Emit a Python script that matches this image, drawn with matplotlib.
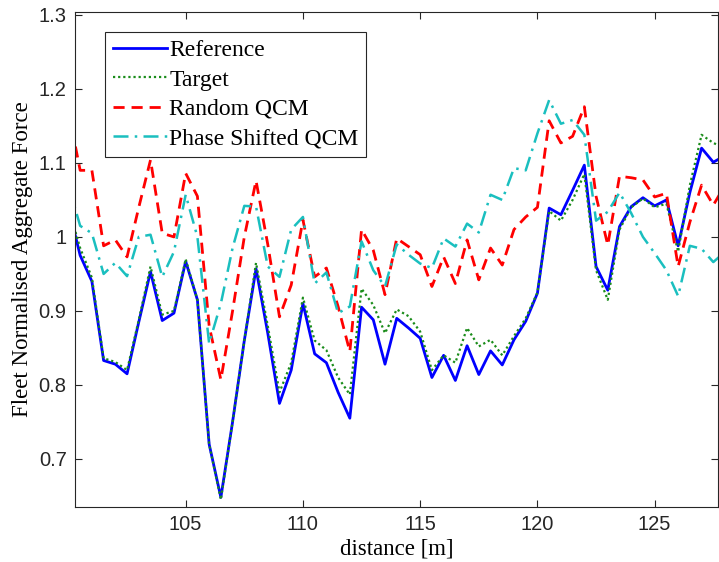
import numpy as np
import matplotlib.pyplot as plt
from matplotlib.ticker import FuncFormatter

# distance samples [m], every 0.5 m
distance = np.arange(100.0, 128.01, 0.5)

reference = [1.04, 0.975, 0.94, 0.833, 0.828, 0.815, 0.885, 0.953, 0.887, 0.897,
             0.967, 0.915, 0.72, 0.648, 0.75, 0.86, 0.957, 0.87, 0.775, 0.82,
             0.91, 0.842, 0.83, 0.79, 0.755, 0.905, 0.888, 0.828, 0.89, 0.877,
             0.863, 0.81, 0.84, 0.806, 0.853, 0.814, 0.846, 0.827, 0.861, 0.886,
             0.924, 1.039, 1.03, 1.063, 1.097, 0.96, 0.928, 1.014, 1.041, 1.053,
             1.042, 1.05, 0.988, 1.06, 1.12, 1.101, 1.11]

target = [1.04, 0.985, 0.945, 0.836, 0.831, 0.82, 0.888, 0.96, 0.895, 0.9,
          0.97, 0.915, 0.72, 0.645, 0.75, 0.86, 0.965, 0.88, 0.79, 0.83,
          0.918, 0.86, 0.847, 0.81, 0.787, 0.93, 0.908, 0.87, 0.902, 0.893,
          0.872, 0.82, 0.84, 0.83, 0.877, 0.852, 0.861, 0.84, 0.866, 0.89,
          0.925, 1.035, 1.022, 1.05, 1.085, 0.955, 0.915, 1.01, 1.04, 1.052,
          1.04, 1.045, 0.98, 1.07, 1.138, 1.127, 1.12]

random_qcm = [1.17, 1.09, 1.09, 0.988, 0.996, 0.973, 1.04, 1.104, 1.005, 1.0,
              1.086, 1.055, 0.88, 0.807, 0.9, 1.0, 1.076, 0.99, 0.892, 0.935,
              1.023, 0.946, 0.958, 0.906, 0.845, 1.01, 0.982, 0.922, 0.998, 0.987,
              0.976, 0.933, 0.973, 0.937, 0.996, 0.942, 0.985, 0.962, 1.01, 1.027,
              1.04, 1.157, 1.127, 1.136, 1.176, 1.055, 0.989, 1.082, 1.08, 1.077,
              1.054, 1.059, 0.96, 1.02, 1.07, 1.043, 1.07]

phase_qcm = [1.07, 1.015, 1.005, 0.95, 0.965, 0.947, 1.0, 1.003, 0.946, 0.98,
             1.057, 1.0, 0.856, 0.91, 0.985, 1.042, 1.041, 0.96, 0.946, 1.01,
             1.027, 0.937, 0.952, 0.897, 0.906, 0.994, 0.955, 0.933, 0.99, 0.976,
             0.964, 0.958, 0.998, 0.987, 1.018, 1.006, 1.057, 1.05, 1.093, 1.09,
             1.14, 1.185, 1.153, 1.158, 1.138, 1.022, 1.034, 1.06, 1.032, 1.0,
             0.978, 0.955, 0.92, 0.988, 0.984, 0.966, 0.98]

serif = "Liberation Serif"
sans = "Liberation Sans"

fig = plt.figure(figsize=(7.19, 5.62), dpi=100)
ax = fig.add_axes([75 / 719, 55 / 562, 643 / 719, 495 / 562])

ax.plot(distance, reference, color="#0000ff", lw=2.0, label="Reference")
ax.plot(distance, target, color="#1a8c1a", lw=1.6, ls=(0, (1, 1.3)), label="Target")
ax.plot(distance, random_qcm, color="#ff0000", lw=2.0, ls=(0, (4, 2.5)), label="Random QCM")
ax.plot(distance, phase_qcm, color="#1abfbf", lw=1.8, ls=(0, (6, 2.5, 1, 2.5)),
        label="Phase Shifted QCM")

ax.set_xlim(100.28, 127.7)
ax.set_ylim(0.635, 1.304)
ax.set_xticks([105, 110, 115, 120, 125])
ax.set_yticks([0.7, 0.8, 0.9, 1.0, 1.1, 1.2, 1.3])
ax.yaxis.set_major_formatter(FuncFormatter(lambda v, p: "%g" % round(v, 2)))
ax.tick_params(direction="in", length=5, width=0.8, top=True, right=True,
               labelsize=14.5, colors="#262626", pad=6)
for lab in ax.get_xticklabels() + ax.get_yticklabels():
    lab.set_family(sans)
for s in ax.spines.values():
    s.set_color("#262626")
    s.set_linewidth(0.8)

ax.set_xlabel("distance [m]", family=serif, fontsize=16.5, labelpad=3)
ax.set_ylabel("Fleet Normalised Aggregate Force", family=serif, fontsize=16.5, labelpad=4)

leg = ax.legend(loc="upper left", bbox_to_anchor=(30 / 643, 1 - 20 / 495),
                prop={"family": serif, "size": 17}, fancybox=False, framealpha=1,
                edgecolor="#262626", handlelength=2.3, handletextpad=0.1,
                borderpad=0.33, labelspacing=0.33, borderaxespad=0)
leg.get_frame().set_linewidth(0.8)

fig.savefig("out.png", dpi=100)
